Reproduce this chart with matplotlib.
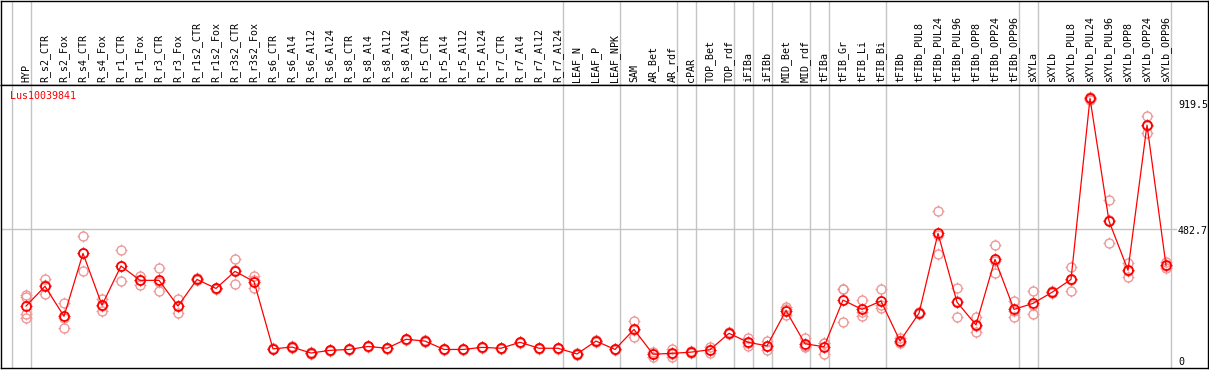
import matplotlib
matplotlib.use("Agg")
import matplotlib.pyplot as plt
from matplotlib.path import Path

W, H, DPI = 1209, 370, 100

samples = [
    "HYP", "R_s2_CTR", "R_s2_Fox", "R_s4_CTR", "R_s4_Fox", "R_r1_CTR", "R_r1_Fox",
    "R_r3_CTR", "R_r3_Fox", "R_r1s2_CTR", "R_r1s2_Fox", "R_r3s2_CTR", "R_r3s2_Fox",
    "R_s6_CTR", "R_s6_Al4", "R_s6_Al12", "R_s6_Al24", "R_s8_CTR", "R_s8_Al4",
    "R_s8_Al12", "R_s8_Al24", "R_r5_CTR", "R_r5_Al4", "R_r5_Al12", "R_r5_Al24",
    "R_r7_CTR", "R_r7_Al4", "R_r7_Al12", "R_r7_Al24", "LEAF_N", "LEAF_P", "LEAF_NPK",
    "SAM", "AR_Bet", "AR_rdf", "cPAR", "TOP_Bet", "TOP_rdf", "iFIBa", "iFIBb",
    "MID_Bet", "MID_rdf", "tFIBa", "tFIB_Gr", "tFIB_Li", "tFIB_Bi", "tFIBb",
    "tFIBb_PUL8", "tFIBb_PUL24", "tFIBb_PUL96", "tFIBb_OPP8", "tFIBb_OPP24", "tFIBb_OPP96",
    "sXYLa", "sXYLb", "sXYLb_PUL8", "sXYLb_PUL24", "sXYLb_PUL96", "sXYLb_OPP8",
    "sXYLb_OPP24", "sXYLb_OPP96",
]

means = [
    225, 291, 191, 401, 228, 359, 311, 311, 225, 314, 284, 341, 307,
    82, 88, 68, 77, 80, 90, 84, 114, 108, 80, 80, 87, 84, 104, 84, 84,
    65, 108, 80,
    147, 64, 67, 71, 79, 134, 104, 92, 210, 99, 89, 245, 214, 242, 108,
    201, 468, 238, 162, 381, 214,
    234, 271, 314, 919.5, 509, 345, 830, 361,
]

replicates = [
    [262, 255, 198, 185], [315, 264, 294], [235, 152, 186], [459, 341, 403],
    [248, 210, 226], [411, 308, 358], [326, 296, 311], [351, 275, 307],
    [249, 201, 225], [318, 312, 312], [287, 282, 283], [381, 298, 344],
    [326, 284, 311],
    [84, 80, 82], [90, 86, 88], [70, 66, 68], [79, 75, 77], [82, 78, 80],
    [92, 88, 90], [86, 82, 84], [116, 112, 114], [110, 106, 108], [82, 78, 80],
    [82, 78, 80], [89, 85, 87], [86, 82, 84], [106, 102, 104], [86, 82, 84],
    [86, 82, 84], [67, 63, 65], [110, 106, 108], [82, 78, 80],
    [175, 122, 144], [56, 64, 72], [82, 54, 65], [74, 68, 71], [89, 69, 79],
    [138, 130, 134], [118, 92, 102], [107, 79, 90], [221, 195, 214],
    [118, 89, 90], [101, 65, 101], [281, 172, 282], [245, 191, 206],
    [281, 218, 227], [117, 104, 103],
    [204, 198, 201], [543, 398, 463], [284, 187, 243], [187, 139, 160],
    [429, 337, 377], [242, 190, 210],
    [275, 198, 229], [274, 268, 271], [355, 275, 312], [925, 915, 918],
    [580, 435, 512], [370, 323, 342], [860, 802, 828], [373, 351, 359],
]

# last sample index of each group (separator drawn just right of it)
group_ends = [-1, 0, 28, 31, 34, 35, 37, 38, 39, 41, 42, 45, 52, 53, 60]

gene = "Lus10039841"
axis_labels = [919.5, 482.7, 0]

RED = "#ff0000"
PINK = "#f09898"
GRID = "#c4c4c4"
FONT = "DejaVu Sans Mono"
FS = 7.2


def px_box(left, top, right, bottom):
    return [left / W, 1 - bottom / H, (right - left) / W, (bottom - top) / H]


fig = plt.figure(figsize=(W / DPI, H / DPI), dpi=DPI)
ax_h = fig.add_axes(px_box(1, 0.6, 1208, 85))
ax = fig.add_axes(px_box(1, 85, 1208, 368))

xlim = ((1 - 26) / 19, (1208 - 26) / 19)
for a in (ax_h, ax):
    a.set_xlim(*xlim)
    a.set_xticks([])
    a.set_yticks([])
    for s in a.spines.values():
        s.set_color("black")
        s.set_linewidth(1.0)
ax_h.set_ylim(0, 1)
ax.set_ylim(18, 964)

for g in group_ends:
    for a in (ax_h, ax):
        a.axvline(g + 0.25, color=GRID, lw=1.0, zorder=1)

ax.axhline(482.7, xmin=0, xmax=(1176 - 1) / 1207, color=GRID, lw=1.0, zorder=1)

# header labels
for i, name in enumerate(samples):
    ax_h.text(i, 0.035, name, rotation=90, ha="center", va="bottom",
              fontsize=FS, family=FONT, color="black")

# small ticks around circle markers
tick_marker = Path(
    [(0, 0.8), (0, 1), (0, -0.8), (0, -1), (0.8, 0), (1, 0), (-0.8, 0), (-1, 0)],
    [Path.MOVETO, Path.LINETO] * 4,
)

rx = [i for i, reps in enumerate(replicates) for _ in reps]
ry = [v for reps in replicates for v in reps]
ax.plot(rx, ry, ls="none", marker="o", ms=6.5, mfc="none", mec=PINK, mew=1.0, zorder=2)
ax.plot(rx, ry, ls="none", marker=tick_marker, ms=8.0, mec=PINK, mew=0.8, zorder=2)

xs = list(range(len(means)))
ax.plot(xs, means, color=RED, lw=0.9, marker="o", ms=6.5, mfc="none", mec=RED, mew=1.3, zorder=3)
ax.plot(xs, means, ls="none", marker=tick_marker, ms=8.0, mec=RED, mew=0.8, zorder=3)

ax.text((10 - 1) / 1207, (368 - 91) / 283, gene, transform=ax.transAxes,
        ha="left", va="top", fontsize=FS, family=FONT, color=RED)

label_tops = {919.5: 100, 482.7: 226, 0: 357}
for v in axis_labels:
    ax.text((1178 - 1) / 1207, (368 - label_tops[v]) / 283, f"{v:g}",
            transform=ax.transAxes, ha="left", va="top",
            fontsize=FS, family=FONT, color="black", clip_on=False)

fig.savefig("out.png", dpi=DPI)
